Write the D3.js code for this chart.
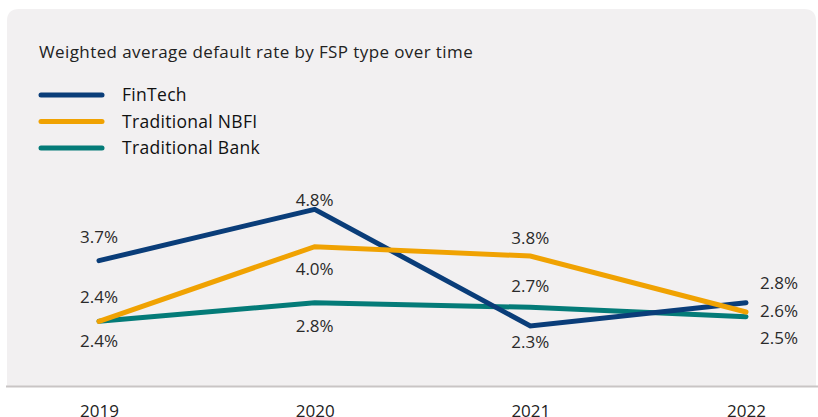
<!DOCTYPE html>
<html><head><meta charset="utf-8">
<script src="https://cdn.jsdelivr.net/npm/d3@7"></script>
<style>
html,body{margin:0;padding:0;background:#fff;}
svg{display:block;font-family:"Open Sans",sans-serif;}
</style></head>
<body>
<svg id="chart" width="818" height="417"></svg>
<script>
const title = "Weighted average default rate by FSP type over time";
const years = ["2019","2020","2021","2022"];
const seriesNames = ["FinTech","Traditional NBFI","Traditional Bank"];
const fintech = [3.7, 4.8, 2.3, 2.8];
const nbfi = [2.4, 4.0, 3.8, 2.6];
const bank = [2.4, 2.8, 2.7, 2.5];
const colors = ["#0a3d79","#f0a202","#047b78"];
// label placement per series per year: vertical offset from point (px); last year labels go to the right
const labelDy = [
  [-18, -3, 22, 0],
  [-18, 28, -12, 0],
  [26, 29, -15, 0]
];
const lastYearLabelY = [289, 317, 344];

const svg = d3.select("#chart");

svg.append("path")
  .attr("d", () => {
    const x0=7, y0=9, x1=816, y1=387, r=12;
    return `M${x0},${y1} L${x0},${y0+r} Q${x0},${y0} ${x0+r},${y0} L${x1-r},${y0} Q${x1},${y0} ${x1},${y0+r} L${x1},${y1} Z`;
  })
  .attr("fill","#f2f0f1");

svg.append("line").attr("x1",6).attr("x2",818).attr("y1",386.5).attr("y2",386.5)
  .attr("stroke","#c9c5c5").attr("stroke-width",2);

svg.append("text").attr("x",39).attr("y",58).text(title)
  .attr("font-size",17).attr("letter-spacing",0.4).attr("fill","#222");

const legendY = [95,121.5,148];
seriesNames.forEach((n,i)=>{
  svg.append("line").attr("x1",41).attr("x2",102).attr("y1",legendY[i]).attr("y2",legendY[i])
    .attr("stroke",colors[i]).attr("stroke-width",5).attr("stroke-linecap","round");
  svg.append("text").attr("x",122).attr("y",legendY[i]+6).text(n)
    .attr("font-size",17.5).attr("letter-spacing",0.3).attr("fill","#111");
});

const x = d3.scalePoint().domain(years).range([99,746]);
const y = d3.scaleLinear().domain([1,5]).range([386.7,200]);

const xAxis = svg.append("g").attr("transform","translate(0,387)")
  .call(d3.axisBottom(x).tickSize(0).tickPadding(18));
xAxis.select(".domain").remove();
xAxis.selectAll("text").attr("font-size",17).attr("fill","#222").attr("font-family","'Open Sans',sans-serif");

const all = [fintech, nbfi, bank];
const line = d3.line().x((d,i)=>x(years[i])).y(d=>y(d));
[2,0,1].forEach(s=>{
  svg.append("path").datum(all[s]).attr("d",line)
    .attr("fill","none").attr("stroke",colors[s]).attr("stroke-width",5)
    .attr("stroke-linecap","round").attr("stroke-linejoin","miter");
});

all.forEach((vals,s)=>{
  vals.forEach((v,i)=>{
    const last = i===years.length-1;
    svg.append("text")
      .attr("x", last ? x(years[i])+14 : x(years[i]))
      .attr("y", last ? lastYearLabelY[s] : y(v)+labelDy[s][i])
      .attr("text-anchor", last ? "start" : "middle")
      .attr("font-size",17).attr("fill","#2a2a2a")
      .text(v.toFixed(1)+"%");
  });
});
</script>
</body></html>
